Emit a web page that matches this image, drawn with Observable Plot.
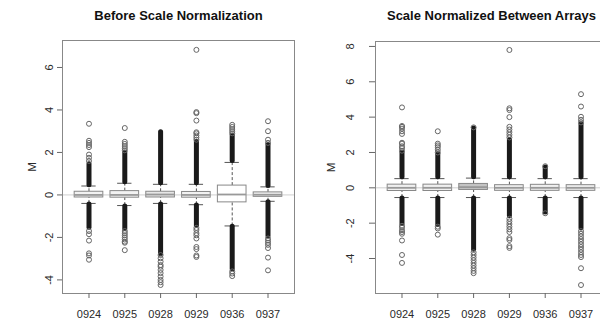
<!DOCTYPE html>
<html><head><meta charset="utf-8">
<script src="https://cdn.jsdelivr.net/npm/d3@7"></script>
<script src="https://cdn.jsdelivr.net/npm/@observablehq/plot@0.6"></script>
<style>
body{margin:0;background:#fff;overflow:hidden}
#wrap{display:flex;width:600px;height:324px;overflow:hidden}
#wrap svg{flex:none;display:block}
</style></head><body><div id="wrap"></div>
<script>
const categories = ["0924","0925","0928","0929","0936","0937"];

// Panel 1: Before Scale Normalization
const beforeWhiskerLow  = [-0.40,-0.50,-0.40,-0.46,-1.46,-0.30];
const beforeQ1          = [-0.12,-0.13,-0.12,-0.13,-0.35,-0.09];
const beforeMedian      = [ 0.00, 0.00, 0.02, 0.00, 0.02, 0.01];
const beforeQ3          = [ 0.15, 0.18, 0.15, 0.14, 0.44, 0.12];
const beforeWhiskerHigh = [ 0.42, 0.55, 0.50, 0.50, 1.53, 0.38];
const beforeDenseHigh   = [[0.45,1.45],[0.6,2.0],[0.55,2.95],[0.55,2.5],[1.6,2.8],[0.42,2.35]];
const beforeDenseLow    = [[-0.45,-1.55],[-0.55,-1.6],[-0.45,-2.8],[-0.5,-1.45],[-1.5,-3.5],[-0.35,-1.95]];
const beforeOutliers = [
  [1.6,1.75,1.9,2.25,2.35,2.45,2.55,3.35,-1.7,-1.85,-2.15,-2.75,-2.85,-3.05],
  [2.1,2.2,2.3,2.4,2.5,3.15,-1.7,-1.8,-1.9,-2.0,-2.1,-2.2,-2.25,-2.6],
  [-2.83,-2.98,-3.14,-3.3,-3.38,-3.53,-3.68,-3.84,-4.0,-4.11,-4.24],
  [2.6,2.7,2.8,2.9,2.95,3.5,3.85,3.9,6.83,-1.55,-1.65,-1.8,-1.9,-2.05,-2.45,-2.55,-2.85,-2.92],
  [2.9,3.0,3.1,3.2,3.3,-3.6,-3.7,-3.82],
  [2.45,2.6,3.0,3.47,-2.05,-2.15,-2.25,-2.35,-2.5,-2.95,-3.55]
];

// Panel 2: Scale Normalized Between Arrays
const afterWhiskerLow  = [-0.55,-0.55,-0.55,-0.55,-0.55,-0.55];
const afterQ1          = [-0.18,-0.18,-0.12,-0.17,-0.17,-0.17];
const afterMedian      = [ 0.00, 0.00, 0.04, 0.00, 0.00, 0.00];
const afterQ3          = [ 0.18, 0.18, 0.22, 0.15, 0.17, 0.15];
const afterWhiskerHigh = [ 0.52, 0.52, 0.55, 0.52, 0.52, 0.52];
const afterDenseHigh   = [[0.6,2.0],[0.6,1.9],[0.6,3.35],[0.6,2.7],[0.6,1.15],[0.6,3.6]];
const afterDenseLow    = [[-0.6,-2.05],[-0.6,-2.1],[-0.6,-3.5],[-0.6,-1.6],[-0.6,-1.4],[-0.6,-2.3]];
const afterOutliers = [
  [2.1,2.25,2.35,2.5,2.55,3.05,3.2,3.35,3.45,3.5,4.55,-2.15,-2.25,-2.4,-2.5,-2.6,-2.98,-3.8,-4.25],
  [2.0,2.15,2.3,2.4,2.5,3.2,-2.2,-2.3,-2.65],
  [3.42,-3.65,-3.8,-3.95,-4.1,-4.25,-4.4,-4.55,-4.7,-4.83],
  [2.85,3.0,3.15,3.3,3.45,4.0,4.4,4.5,7.8,-1.75,-1.9,-2.05,-2.2,-2.35,-2.5,-2.85,-2.95,-3.3,-3.4],
  [1.22,-1.44],
  [3.7,3.85,4.02,4.6,5.3,-2.45,-2.6,-2.75,-2.9,-3.05,-3.2,-3.35,-3.5,-3.65,-3.8,-3.92,-4.55,-5.5]
];

const beforeTicks = [-4,-2,0,2,4,6];
const afterTicks = [-4,-2,0,2,4,6,8];

function panel(o) {
  const rows = categories.map((c, i) => ({
    c, x: i + 1, lo: o.lo[i], q1: o.q1[i], med: o.med[i], q3: o.q3[i], hi: o.hi[i],
    dh: o.dh[i], dl: o.dl[i], fill: (o.boxFill[i])
  }));
  const pts = rows.flatMap((r, i) => o.out[i].map(v => ({x: r.x, v})));
  const font = "Liberation Sans, Arial, Helvetica, sans-serif";
  return Plot.plot({
    width: o.width, height: 324,
    marginLeft: o.marginLeft, marginRight: o.marginRight,
    marginTop: o.marginTop, marginBottom: 324 - 293,
    style: {fontFamily: font, color: "#2a2a2a", background: "#fff", overflow: "visible"},
    x: {domain: [0.26, 6.74], axis: null},
    y: {domain: o.yDomain, axis: null},
    marks: [
      Plot.ruleY([0], {stroke: "#cfcfcf", strokeWidth: 1}),
      Plot.ruleX(rows, {x: "x", y1: "q3", y2: "hi", stroke: "#555", strokeDasharray: "3,2"}),
      Plot.ruleX(rows, {x: "x", y1: "lo", y2: "q1", stroke: "#555", strokeDasharray: "3,2"}),
      Plot.ruleY(rows, {y: "hi", x1: d => d.x - 0.2, x2: d => d.x + 0.2, stroke: "#555"}),
      Plot.ruleY(rows, {y: "lo", x1: d => d.x - 0.2, x2: d => d.x + 0.2, stroke: "#555"}),
      Plot.ruleX(rows, {x: "x", y1: d => d.dh[0], y2: d => d.dh[1], stroke: "#1a1a1a", strokeWidth: 5, strokeLinecap: "round"}),
      Plot.ruleX(rows, {x: "x", y1: d => d.dl[0], y2: d => d.dl[1], stroke: "#1a1a1a", strokeWidth: 5, strokeLinecap: "round"}),
      Plot.dot(pts, {x: "x", y: "v", r: 2.5, stroke: "#666", strokeWidth: 1, fill: "none"}),
      Plot.rect(rows, {x1: d => d.x - 0.4, x2: d => d.x + 0.4, y1: "q1", y2: "q3", fill: "fill", stroke: "#888", strokeWidth: 1}),
      Plot.ruleY(rows, {y: "med", x1: d => d.x - 0.4, x2: d => d.x + 0.4, stroke: "#999", strokeWidth: 1.8}),
      Plot.frame({stroke: "#888"}),
      Plot.axisX({ticks: [1,2,3,4,5,6], tickFormat: d => categories[d - 1], tickSize: 5, tickPadding: 12, fontSize: 11, stroke: "#666", label: null}),
      Plot.axisY({ticks: o.ticks, tickSize: o.tickSize, tickFormat: () => "", stroke: "#666", label: null}),
      Plot.text(o.ticks, {y: d => d, text: d => String(d), frameAnchor: "left", dx: o.tickDx, rotate: -90, fontSize: 11, textAnchor: "middle", lineAnchor: "middle"}),
      Plot.text([o.ylabel], {text: d => d, frameAnchor: "left", dx: o.labelDx, rotate: -90, fontSize: 11.5, textAnchor: "middle", lineAnchor: "middle"}),
      Plot.text([o.title], {text: d => d, frameAnchor: "top", dy: o.titleDy, fontSize: 13, fontWeight: "bold", fill: "#111", lineAnchor: "middle"})
    ]
  });
}

const wrap = document.getElementById("wrap");
wrap.append(panel({
  title: "Before Scale Normalization", ylabel: "M",
  lo: beforeWhiskerLow, q1: beforeQ1, med: beforeMedian, q3: beforeQ3, hi: beforeWhiskerHigh,
  dh: beforeDenseHigh, dl: beforeDenseLow, out: beforeOutliers,
  boxFill: ["#f2f2f2","#f2f2f2","#e6e6e6","#f2f2f2","#ffffff","#f2f2f2"],
  yDomain: [-4.64, 7.27], ticks: beforeTicks,
  width: 300, marginLeft: 62, marginRight: 6, marginTop: 40,
  tickSize: 5, tickDx: -13, labelDx: -30, titleDy: -25
}));
wrap.append(panel({
  title: "Scale Normalized Between Arrays", ylabel: "M",
  lo: afterWhiskerLow, q1: afterQ1, med: afterMedian, q3: afterQ3, hi: afterWhiskerHigh,
  dh: afterDenseHigh, dl: afterDenseLow, out: afterOutliers,
  boxFill: ["#f0f0f0","#f0f0f0","#c4c4c4","#f0f0f0","#f0f0f0","#f0f0f0"],
  yDomain: [-5.98, 8.28], ticks: afterTicks,
  width: 310, marginLeft: 75, marginRight: 3, marginTop: 41,
  tickSize: 6, tickDx: -25, labelDx: -44, titleDy: -26
}));
</script></body></html>
